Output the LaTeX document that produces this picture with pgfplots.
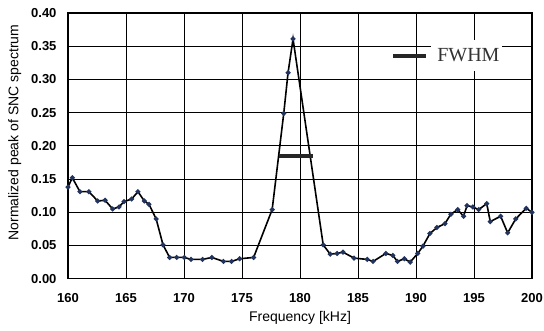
\documentclass[border=0pt]{standalone}
\usepackage{pgfplots}
\pgfplotsset{compat=1.18}
\usepackage{fontspec}
\setmainfont{Liberation Sans}
\newfontfamily\legendserif{Liberation Serif}
\definecolor{markblue}{HTML}{22335E}
\begin{document}
\begin{tikzpicture}
\useasboundingbox (-68pt,-52.3pt) rectangle (476pt,278.7pt);
\begin{axis}[
  scale only axis,
  width=464pt, height=265.7pt,
  xmin=160, xmax=200, ymin=0, ymax=0.4,
  xtick={160,165,...,200},
  ytick={0,0.05,...,0.41},
  grid=major,
  major grid style={black, line width=0.9pt},
  axis line style={black, line width=1.2pt},
  major tick length=0pt,
  /pgf/number format/assume math mode=true,
  yticklabel style={/pgf/number format/fixed, /pgf/number format/fixed zerofill, /pgf/number format/precision=2, font=\bfseries\fontsize{13}{13}\selectfont, xshift=-8pt},
  xticklabel style={font=\bfseries\fontsize{13}{13}\selectfont, yshift=-11pt},
  xlabel={Frequency [kHz]},
  ylabel={Normalized peak of SNC spectrum},
  xlabel style={font=\fontsize{14}{14}\selectfont, yshift=-2pt},
  ylabel style={font=\fontsize{14}{14}\selectfont, at={(ticklabel cs:0.55)}, yshift=3pt},
  legend style={at={(axis cs:191.3,0.336)}, anchor=west, draw=none, fill=white, inner xsep=0pt, inner ysep=6pt, font=\legendserif\fontsize{20}{20}\selectfont, text=black!80},
  legend image code/.code={\path (0,0); \draw[overlay, line width=4pt, black!85] (-40pt,0) -- (-7pt,0);},
  clip=true,
]
\addplot[black, line width=1.6pt, mark=*, mark size=1.6pt, mark options={fill=markblue, draw=markblue}, forget plot] coordinates {
(160.0,0.138) (160.37,0.152) (161.03,0.131) (161.8,0.131) (162.56,0.117) (163.2,0.118)
(163.85,0.105) (164.4,0.108) (164.83,0.116) (165.49,0.120) (166.03,0.131) (166.58,0.117)
(166.98,0.112) (167.6,0.090) (168.19,0.051) (168.76,0.032) (169.37,0.032) (170.03,0.032)
(170.6,0.029) (171.6,0.029) (172.4,0.032) (173.4,0.026) (174.1,0.026) (174.8,0.030)
(176.0,0.032) (177.6,0.104) (178.6,0.249) (178.97,0.310) (179.4,0.361) (182.0,0.051)
(182.6,0.037) (183.2,0.038) (183.7,0.040) (184.66,0.031) (185.8,0.029) (186.3,0.026)
(187.4,0.038) (188.0,0.035) (188.4,0.026) (189.0,0.030) (189.5,0.025) (190.15,0.038)
(190.6,0.049) (191.2,0.068) (191.8,0.077) (192.5,0.083) (193.0,0.097) (193.6,0.104)
(194.1,0.094) (194.4,0.110) (194.9,0.108) (195.4,0.104) (196.1,0.113) (196.4,0.086)
(197.3,0.094) (197.9,0.069) (198.6,0.090) (199.5,0.106) (200.0,0.100)
};
\addplot[black!85, line width=4pt] coordinates {(178.2,0.184) (181.1,0.184)};
\addlegendentry{FWHM}
\end{axis}
\end{tikzpicture}
\end{document}
